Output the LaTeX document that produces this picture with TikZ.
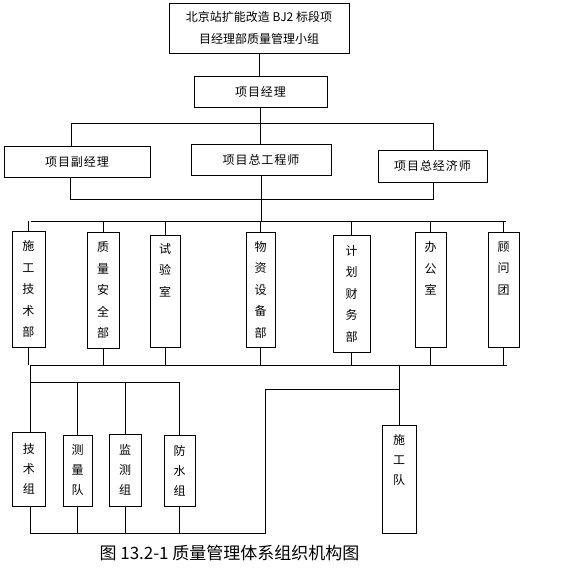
\documentclass[tikz,border=0pt]{standalone}
\usepackage{fontspec}
\newfontfamily\cjk{Noto Sans CJK SC}
\newfontfamily\cjkwide[LetterSpace=8]{Noto Sans CJK SC}
\usepackage{tikz}

\begin{document}
\begin{tikzpicture}[x=1pt,y=-1pt,line width=0.8pt,
    box/.style={draw,inner sep=0pt,align=center,font=\cjk\fontsize{12}{22}\selectfont},
    hbox/.style={box,font=\cjkwide\fontsize{12}{22}\selectfont},
    vbox/.style={box,font=\cjk\fontsize{12}{21.5}\selectfont},
    sbox/.style={box,font=\cjk\fontsize{12}{20}\selectfont}]
  \useasboundingbox (0,0) rectangle (576,569);
  % leading group
  \node[box,minimum width=180pt,minimum height=50pt] (top) at (259,28)
    {北京站扩能改造 BJ2 标段项\\目经理部质量管理小组};
  \node[hbox,minimum width=133pt,minimum height=31pt] (jl) at (260.5,91.5) {项目经理};
  \node[hbox,minimum width=146pt,minimum height=31pt] (fjl) at (77,161.5) {项目副经理};
  \node[hbox,minimum width=140pt,minimum height=31pt] (zgc) at (261,159.5) {项目总工程师};
  \node[hbox,minimum width=109pt,minimum height=32pt] (zjj) at (432.5,166) {项目总经济师};
  % departments
  \node[vbox,minimum width=33pt,minimum height=116pt] (sgjs) at (28.5,289) {施\\工\\技\\术\\部};
  \node[vbox,minimum width=32pt,minimum height=116pt] (zlaq) at (103,290) {质\\量\\安\\全\\部};
  \node[vbox,minimum width=30pt,minimum height=112pt] (syz) at (165,291) {试\\验\\室\\~\\~};
  \node[vbox,minimum width=29pt,minimum height=115pt] (wzsb) at (260.5,289.5) {物\\资\\设\\备\\部};
  \node[vbox,minimum width=37pt,minimum height=117pt] (jhcw) at (351.5,293.5) {计\\划\\财\\务\\部};
  \node[vbox,minimum width=31pt,minimum height=115pt] (bgs) at (430.5,289.5) {办\\公\\室\\~\\~};
  \node[vbox,minimum width=31pt,minimum height=115pt] (gwt) at (503.5,289.5) {顾\\问\\团\\~\\~};
  % working groups
  \node[sbox,minimum width=33pt,minimum height=74pt] (jsz) at (29,469) {技\\术\\组};
  \node[sbox,minimum width=29pt,minimum height=71pt] (clq) at (77.5,470.5) {测\\量\\队};
  \node[sbox,minimum width=32pt,minimum height=72pt] (jcz) at (125,470) {监\\测\\组};
  \node[sbox,minimum width=31pt,minimum height=71pt] (fsz) at (179.5,470.5) {防\\水\\组};
  \node[sbox,minimum width=34pt,minimum height=108pt] (sgd) at (399,479) {施\\工\\队\\~\\~};
  \node[font=\cjk\fontsize{17}{17}\selectfont] (cap) at (229.5,553)
    {图 13.2-1 质量管理体系组织机构图};

  \coordinate (b1l) at (71,123);  \coordinate (b1r) at (433,123);
  \coordinate (b2l) at (70,199);  \coordinate (b2r) at (433,199);
  \coordinate (b3l) at (31,221);  \coordinate (b3r) at (506,221);
  \coordinate (b4l) at (30,365);  \coordinate (b4r) at (507,365);
  \coordinate (b5l) at (30,382);  \coordinate (b5r) at (180,382);
  \coordinate (b6l) at (30,533);  \coordinate (b6r) at (265,533);
  \coordinate (b7) at (265,389);

  \draw (top.south) -- (top.south |- jl.north);
  \draw (jl.south) -- (jl.south |- zgc.north);
  \draw (b1l |- fjl.north) -- (b1l) -- (b1r) -- (b1r |- zjj.north);
  \draw (b2l |- fjl.south) -- (b2l) -- (b2r) -- (b2r |- zjj.south);
  \draw (zgc.south) -- (zgc.south |- b3l);
  \draw (b3l) -- (b3r);
  \draw (b4l) -- (b4r);
  \foreach \n in {sgjs,zlaq,syz,wzsb,jhcw,bgs,gwt}{
    \draw (\n.north) -- (\n.north |- b3l);
    \draw (\n.south) -- (\n.south |- b4l);
  }
  \draw (b4l) -- (b4l |- jsz.north);
  \draw (b5l) -- (b5r);
  \draw (b6l |- jsz.south) -- (b6l) -- (b6r) -- (b7) -- (b7 -| sgd.north);
  \draw (sgd.north |- b4l) -- (sgd.north);
  \foreach \n in {clq,jcz,fsz}{
    \draw (\n.north) -- (\n.north |- b5l);
    \draw (\n.south) -- (\n.south |- b6l);
  }
\end{tikzpicture}
\end{document}
